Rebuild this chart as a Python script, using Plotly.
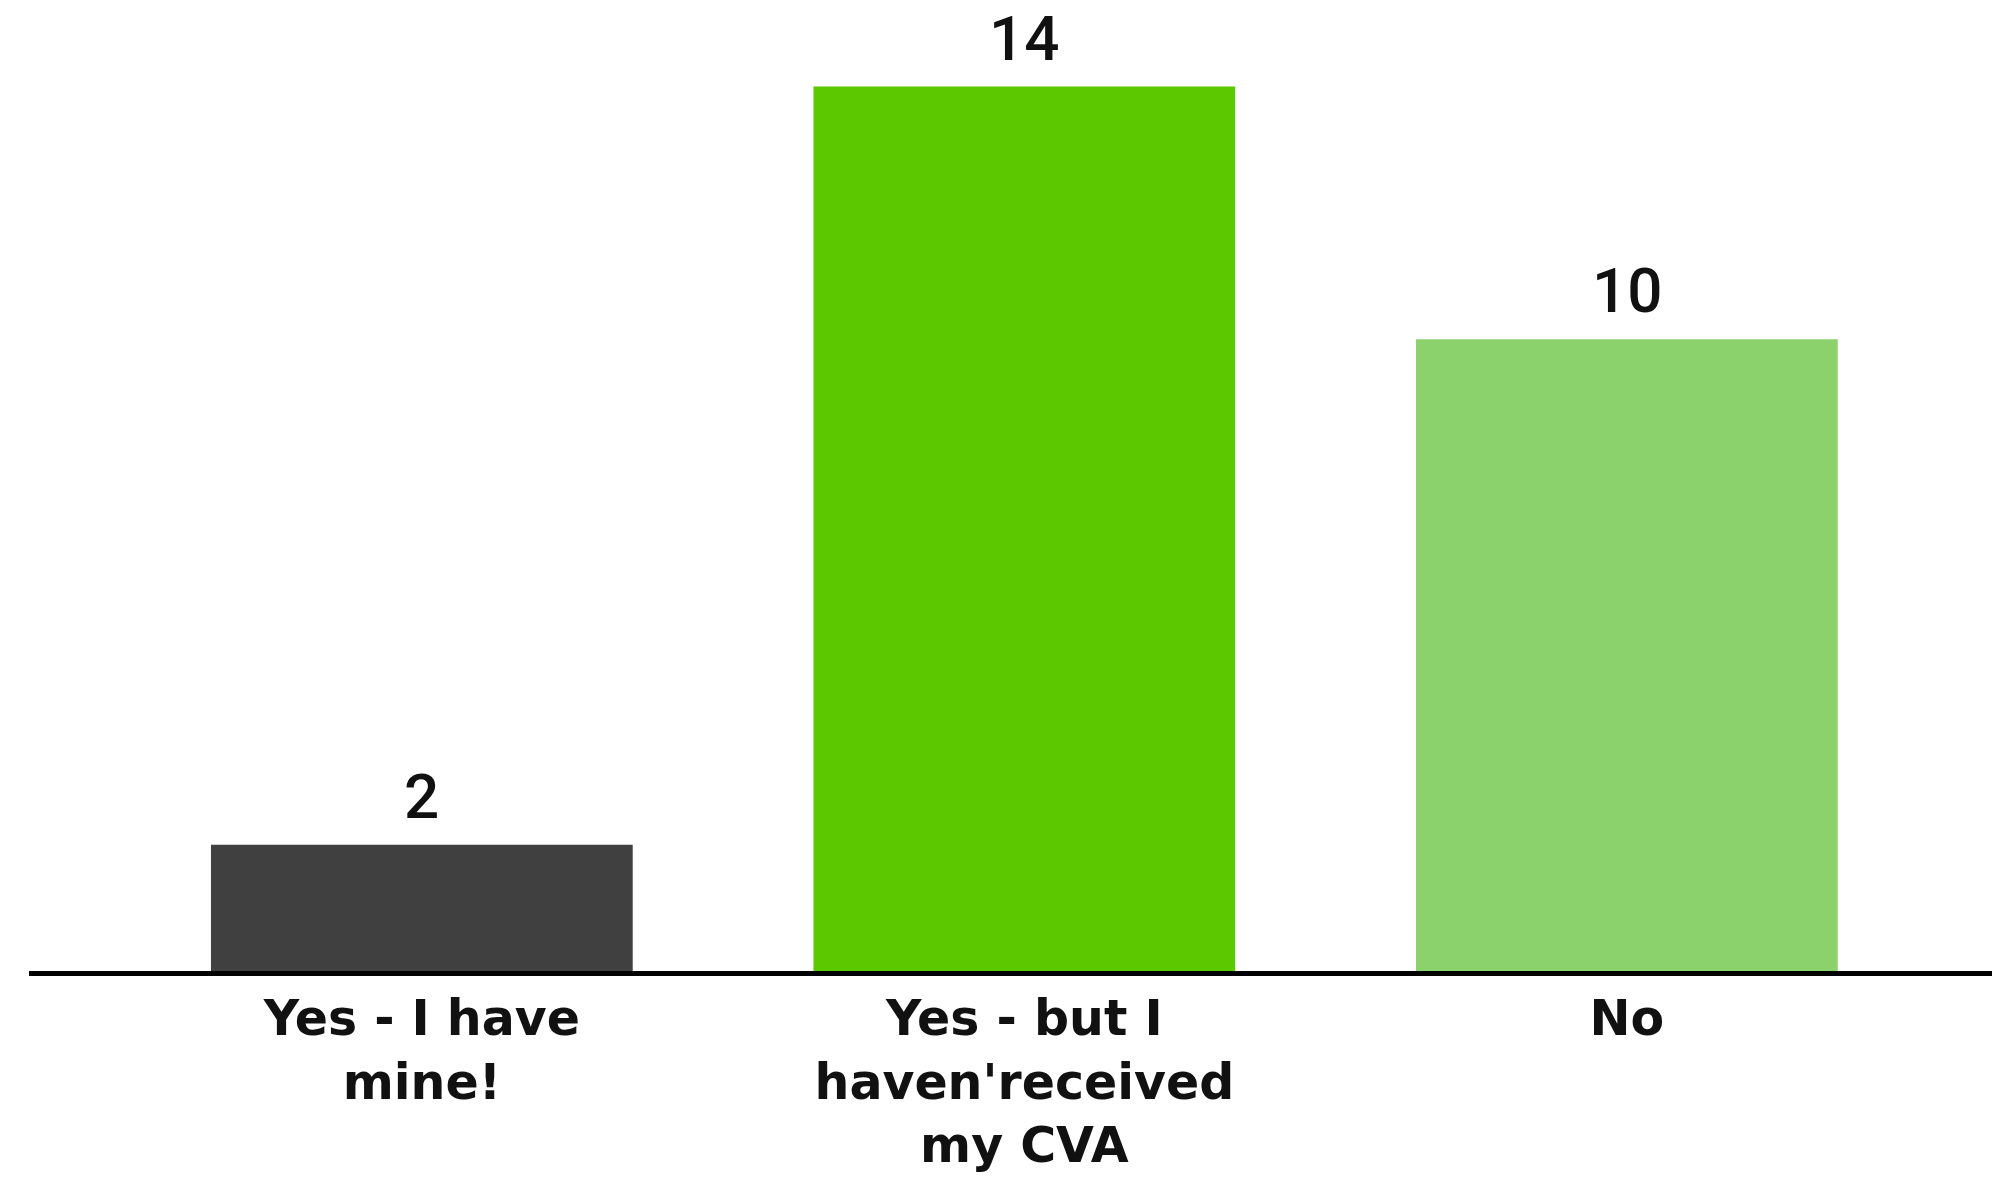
import plotly.graph_objects as go

categories = ["Yes - I have<br>mine!", "Yes - but I<br>haven'received<br>my CVA", "No"]
values = [2, 14, 10]
colors = ["#404040", "#5CC800", "#8CD26C"]

fig = go.Figure(go.Bar(
    x=categories,
    y=values,
    marker=dict(color=colors, line=dict(width=0)),
    hoverinfo="skip",
))

for c, v in zip(categories, values):
    fig.add_annotation(
        x=c, y=v, text=str(v), showarrow=False,
        yanchor="bottom", yshift=10,
        font=dict(family="Roboto", size=62, color="#111111", weight=500),
    )

fig.update_layout(
    width=1992, height=1177,
    margin=dict(l=29, r=0, t=0, b=206, pad=0),
    paper_bgcolor="white", plot_bgcolor="white",
    bargap=0.3,
    showlegend=False,
    font=dict(family="DejaVu Sans", color="#111111"),
    xaxis=dict(
        range=[-0.652, 2.606],
        automargin=False,
        showline=True, linecolor="black", linewidth=5,
        showgrid=False, zeroline=False, ticks="",
        tickfont=dict(family="DejaVu Sans", size=49, color="#111111", weight="bold"),
    ),
    yaxis=dict(
        range=[0, 15.37], visible=False, showgrid=False, zeroline=False,
        automargin=False,
    ),
)

fig.write_html("out.html")
